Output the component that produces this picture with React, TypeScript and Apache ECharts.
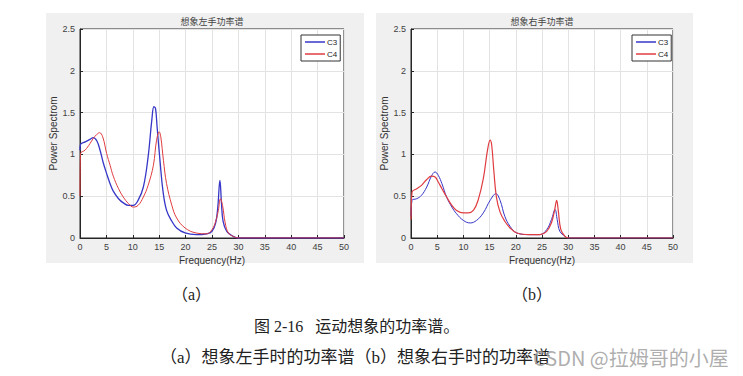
import React, { useEffect, useRef } from "react";
import * as echarts from "echarts";

// ---- data ----
const xTicks = [0, 5, 10, 15, 20, 25, 30, 35, 40, 45, 50];
const yTicks = [0, 0.5, 1, 1.5, 2, 2.5];

const leftC3Freq = [0, 0.1, 1, 1.9, 2.5, 3.2, 3.8, 4.4, 5.05, 5.7, 6.3, 7.3, 8.2, 9.2, 10.1, 11, 12, 12.9, 13.6, 14.0, 14.3, 14.6, 15.2, 15.7, 16.4, 17.4, 18.3, 19.9, 22, 24, 25, 25.7, 26.1, 26.5, 26.8, 27.1, 27.8, 29, 30, 31, 35, 50];
const leftC3Vals = [1.05, 1.12, 1.15, 1.18, 1.2, 1.16, 1.05, 0.9, 0.77, 0.65, 0.56, 0.47, 0.42, 0.39, 0.39, 0.45, 0.61, 0.97, 1.41, 1.57, 1.55, 1.33, 0.89, 0.57, 0.33, 0.2, 0.12, 0.06, 0.04, 0.05, 0.08, 0.18, 0.37, 0.69, 0.41, 0.2, 0.08, 0.02, 0, 0, 0, 0];

const leftC4Freq = [0, 0.1, 0.95, 1.9, 2.5, 3.2, 3.7, 4.3, 5.05, 5.7, 6.3, 7.3, 8.2, 9.2, 10.1, 11, 12, 12.9, 13.9, 14.5, 15.0, 15.3, 15.8, 16.4, 17.4, 18.3, 19.9, 22, 24, 25, 25.7, 26.2, 26.6, 27.0, 27.5, 28.1, 29, 30, 31, 35, 50];
const leftC4Vals = [0.5, 1.01, 1.05, 1.13, 1.19, 1.24, 1.26, 1.21, 1.01, 0.87, 0.74, 0.59, 0.49, 0.41, 0.37, 0.39, 0.49, 0.63, 0.87, 1.17, 1.27, 1.21, 0.93, 0.65, 0.39, 0.24, 0.12, 0.06, 0.05, 0.1, 0.2, 0.33, 0.47, 0.39, 0.18, 0.06, 0.02, 0, 0, 0, 0];

const rightC3Freq = [0, 0.2, 1.1, 2.0, 3.0, 3.9, 4.6, 5.2, 5.9, 6.8, 7.8, 8.7, 10, 11.3, 12.5, 13.8, 15.1, 16.2, 17.0, 17.9, 18.9, 20.2, 22.7, 24.6, 25.9, 26.8, 27.5, 27.9, 28.4, 29.4, 30, 31, 35, 50];
const rightC3Vals = [0.26, 0.45, 0.47, 0.51, 0.61, 0.74, 0.79, 0.75, 0.65, 0.49, 0.37, 0.29, 0.21, 0.18, 0.21, 0.3, 0.45, 0.53, 0.45, 0.26, 0.14, 0.06, 0.04, 0.04, 0.1, 0.22, 0.34, 0.22, 0.08, 0.02, 0, 0, 0, 0];

const rightC4Freq = [0, 0.2, 1.1, 2.0, 3.0, 3.9, 4.6, 5.2, 5.9, 6.8, 7.8, 8.7, 10, 10.9, 11.9, 12.8, 13.8, 14.6, 15.1, 15.4, 15.8, 16.3, 17.0, 17.9, 18.9, 20.2, 22.7, 24.6, 25.9, 26.8, 27.4, 27.8, 28.1, 28.6, 29.4, 30, 31, 35, 50];
const rightC4Vals = [0.22, 0.55, 0.59, 0.63, 0.7, 0.74, 0.73, 0.67, 0.59, 0.49, 0.39, 0.33, 0.3, 0.3, 0.33, 0.45, 0.71, 1.05, 1.17, 1.11, 0.81, 0.49, 0.31, 0.2, 0.12, 0.06, 0.04, 0.04, 0.08, 0.18, 0.33, 0.45, 0.33, 0.1, 0.02, 0, 0, 0, 0];

const seriesNames = ["C3", "C4"];
const panelTitles = ["想象左手功率谱", "想象右手功率谱"];
const xName = "Frequency(Hz)";
const yName = "Power Spectrom";
const subLabels = ["（a）", "（b）"];
const captionMain = "图 2-16   运动想象的功率谱。";
const captionSub = "（a）想象左手时的功率谱（b）想象右手时的功率谱";
const watermark = "CSDN @拉姆哥的小屋";

const BLUE = "#3636c8";
const RED = "#e03c40";
const LATIN = "'Liberation Sans', Arial, sans-serif";
const SERIF = "'Liberation Serif', 'Noto Sans CJK SC', serif";
const CJK = "'Noto Sans CJK SC', sans-serif";

const pairs = (f: number[], v: number[]) => f.map((x, i) => [x, v[i]]);

export default function App() {
  const ref = useRef<HTMLDivElement>(null);
  useEffect(() => {
    document.body.style.margin = "0";
    if (!ref.current) return;
    const chart = echarts.init(ref.current, undefined, { renderer: "svg" });

    const grids = [
      { left: 80, top: 29, width: 264, height: 209 },
      { left: 411, top: 29, width: 262, height: 209 },
    ];

    const xAxis = grids.map((_, i) => ({
      type: "value",
      gridIndex: i,
      min: 0,
      max: 50,
      interval: 5,
      name: xName,
      nameLocation: "middle",
      nameGap: 15,
      nameTextStyle: { fontSize: 10, color: "#333", fontFamily: LATIN },
      axisLine: { show: true, lineStyle: { color: "#262626", width: 1 } },
      axisTick: { show: true, inside: true, length: 3, lineStyle: { color: "#262626" } },
      axisLabel: {
        fontSize: 9,
        color: "#404040",
        fontFamily: LATIN,
        margin: 4,
        customValues: xTicks,
      },
      splitLine: { show: true, lineStyle: { color: "#e3e3e3", width: 1 } },
    }));

    const yAxis = grids.map((_, i) => ({
      type: "value",
      gridIndex: i,
      min: 0,
      max: 2.5,
      interval: 0.5,
      name: yName,
      nameLocation: "middle",
      nameGap: 18,
      nameTextStyle: { fontSize: 10, color: "#333", fontFamily: LATIN },
      axisLine: { show: true, lineStyle: { color: "#262626", width: 1 } },
      axisTick: { show: true, inside: true, length: 3, lineStyle: { color: "#262626" } },
      axisLabel: { fontSize: 9, color: "#404040", fontFamily: LATIN, margin: 5, customValues: yTicks },
      splitLine: { show: true, lineStyle: { color: "#e3e3e3", width: 1 } },
    }));

    const mk = (name: string, idx: number, data: number[][], color: string, width: number) => ({
      type: "line",
      name,
      xAxisIndex: idx,
      yAxisIndex: idx,
      data,
      showSymbol: false,
      symbol: "none",
      smooth: 0.4,
      lineStyle: { color, width },
      itemStyle: { color },
      z: name === "C4" ? 3 : 2,
    });

    const series = [
      mk(seriesNames[0], 0, pairs(leftC3Freq, leftC3Vals), BLUE, 1.3),
      mk(seriesNames[1], 0, pairs(leftC4Freq, leftC4Vals), RED, 1),
      mk(seriesNames[0], 1, pairs(rightC3Freq, rightC3Vals), BLUE, 1),
      mk(seriesNames[1], 1, pairs(rightC4Freq, rightC4Vals), RED, 1.2),
    ];

    const legendBase = {
      orient: "vertical",
      data: seriesNames,
      top: 35,
      icon: "rect",
      itemWidth: 20,
      itemHeight: 1.5,
      itemGap: 4,
      padding: [3, 3, 3, 4],
      backgroundColor: "#fff",
      borderColor: "#333",
      borderWidth: 1,
      borderRadius: 0,
      selectedMode: false,
      textStyle: { fontSize: 8, color: "#222", fontFamily: LATIN, padding: [0, 0, 0, -3] },
    };

    const panelBg = [
      { x: 46, y: 13, w: 318, h: 250 },
      { x: 376, y: 13, w: 317, h: 250 },
    ];

    const graphic: any[] = [
      ...panelBg.map((b) => ({
        type: "rect",
        shape: { x: b.x, y: b.y, width: b.w, height: b.h },
        style: { fill: "#f0f0f0" },
        z: -10,
        silent: true,
      })),
      ...grids.map((g, i) => ({
        type: "text",
        x: g.left + g.width / 2,
        y: 21,
        style: {
          text: panelTitles[i],
          fontSize: 9,
          fill: "#444",
          fontFamily: CJK,
          textAlign: "center",
          textVerticalAlign: "middle",
        },
      })),
      {
        type: "text",
        x: 172,
        y: 294,
        style: { text: subLabels[0], fontSize: 16, fill: "#222", fontFamily: SERIF, textVerticalAlign: "middle" },
      },
      {
        type: "text",
        x: 512,
        y: 294,
        style: { text: subLabels[1], fontSize: 16, fill: "#222", fontFamily: SERIF, textVerticalAlign: "middle" },
      },
      {
        type: "text",
        x: 254,
        y: 326,
        style: { text: captionMain, fontSize: 16, fill: "#222", fontFamily: SERIF, textVerticalAlign: "middle" },
      },
      {
        type: "text",
        x: 160,
        y: 357,
        style: { text: captionSub, fontSize: 17, fill: "#222", fontFamily: SERIF, textVerticalAlign: "middle" },
      },
      {
        type: "text",
        x: 533,
        y: 357,
        style: { text: watermark, fontSize: 20, fill: "rgba(160,160,160,0.85)", fontFamily: CJK, textVerticalAlign: "middle" },
        z: 20,
      },
    ];

    chart.setOption({
      animation: false,
      backgroundColor: "#fff",
      grid: grids.map((g) => ({
        ...g,
        show: true,
        backgroundColor: "#fff",
        borderColor: "#262626",
        borderWidth: 1,
      })),
      xAxis,
      yAxis,
      legend: [
        { ...legendBase, left: 301 },
        { ...legendBase, left: 632 },
      ],
      series,
      graphic,
    } as any);

    return () => chart.dispose();
  }, []);

  return <div ref={ref} style={{ width: 743, height: 376 }} />;
}
